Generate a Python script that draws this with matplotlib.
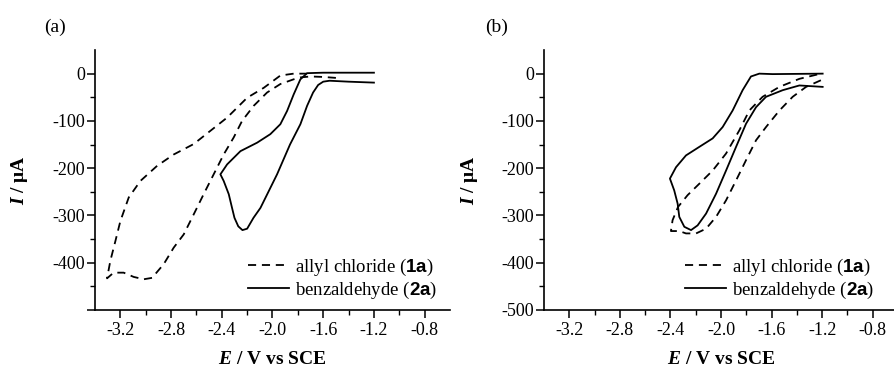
import matplotlib
matplotlib.use("Agg")
import matplotlib.pyplot as plt
from matplotlib.ticker import FixedLocator

# ---------------- data ----------------
# Panel (a): allyl chloride (1a), dashed
Ea_allyl = [-1.50, -1.60, -1.70, -1.78, -1.833, -1.938, -2.043, -2.148, -2.24, -2.306,
            -2.385, -2.464, -2.543, -2.622, -2.70, -2.779, -2.858, -2.95, -3.016, -3.095,
            -3.174, -3.253, -3.305, -3.279, -3.239, -3.20, -3.134, -3.042, -2.91, -2.779,
            -2.622, -2.49, -2.358, -2.20, -2.069, -1.938, -1.833, -1.73]
Ia_allyl = [-9, -7, -6, -8, -12, -22, -40, -68, -100, -135,
            -171, -213, -255, -298, -340, -368, -403, -432, -435, -430,
            -421, -421, -433, -396, -354, -312, -262, -227, -195, -171,
            -149, -121, -93, -51, -30, -4, 0, 0]
# Panel (a): benzaldehyde (2a), solid
Ea_benz = [-1.20, -1.40, -1.55, -1.60, -1.64, -1.68, -1.727, -1.78, -1.862, -1.964,
           -2.095, -2.15, -2.20, -2.237, -2.27, -2.30, -2.32, -2.345, -2.385, -2.411,
           -2.358, -2.253, -2.121, -2.017, -1.938, -1.885, -1.833, -1.78, -1.727, -1.60, -1.20]
Ia_benz = [-19, -17, -15, -17, -24, -40, -68, -107, -150, -213,
           -284, -305, -328, -331, -323, -305, -283, -255, -227, -213,
           -192, -164, -146, -128, -107, -79, -44, -12, 1, 2, 2]

# Panel (b): allyl chloride (1a), dashed
Eb_allyl = [-1.21, -1.327, -1.433, -1.538, -1.644, -1.723, -1.802, -1.881, -1.96, -2.039,
            -2.118, -2.197, -2.277, -2.33, -2.396, -2.383, -2.34, -2.264, -2.172, -2.066,
            -1.96, -1.855, -1.776, -1.671, -1.538, -1.38, -1.21]
Ib_allyl = [-14, -28, -49, -78, -113, -141, -183, -226, -268, -303,
            -328, -338, -338, -333, -333, -310, -282, -257, -233, -205,
            -169, -120, -78, -49, -28, -11, 0]
# Panel (b): benzaldehyde (2a), solid
Eb_benz = [-1.196, -1.38, -1.512, -1.644, -1.723, -1.802, -1.881, -1.96, -2.039, -2.118,
           -2.185, -2.237, -2.29, -2.33, -2.343, -2.37, -2.404, -2.356, -2.277, -2.172,
           -2.066, -1.987, -1.908, -1.829, -1.763, -1.697, -1.592, -1.196]
Ib_benz = [-28, -25, -35, -49, -71, -106, -155, -205, -254, -296,
           -321, -331, -324, -303, -275, -247, -222, -198, -173, -155,
           -137, -113, -78, -35, -6, 0, -1, 0]

series_labels = [r"allyl chloride ($\mathbf{1a}$)", r"benzaldehyde ($\mathbf{2a}$)"]
panel_tags = ["(a)", "(b)"]
x_major = [-3.2, -2.8, -2.4, -2.0, -1.6, -1.2, -0.8]
x_minor = [-3.0, -2.6, -2.2, -1.8, -1.4, -1.0]
y_major = [0, -100, -200, -300, -400, -500]
y_minor = [-50, -150, -250, -350, -450]

# ---------------- style ----------------
plt.rcParams["font.family"] = ["Liberation Serif", "DejaVu Serif"]
plt.rcParams["mathtext.fontset"] = "custom"
plt.rcParams["mathtext.rm"] = "Liberation Serif"
plt.rcParams["mathtext.it"] = "Liberation Serif:italic:bold"
plt.rcParams["mathtext.bf"] = "Liberation Sans:bold"

fig = plt.figure(figsize=(8.95, 3.67), dpi=100)
W, H = 895.0, 367.0

def make_axes(left_px, right_px):
    return fig.add_axes([left_px / W, (H - 310) / H, (right_px - left_px) / W, 260 / H])

axa = make_axes(95, 450)
axb = make_axes(544, 898)

dash = (0, (4.5, 3.2))
lw = 1.3

axa.plot(Ea_allyl, Ia_allyl, color="black", lw=lw, linestyle=dash, label=series_labels[0])
axa.plot(Ea_benz, Ia_benz, color="black", lw=lw, linestyle="-", label=series_labels[1])
axb.plot(Eb_allyl, Ib_allyl, color="black", lw=lw, linestyle=dash, label=series_labels[0])
axb.plot(Eb_benz, Ib_benz, color="black", lw=lw, linestyle="-", label=series_labels[1])

for i, ax in enumerate([axa, axb]):
    ax.set_xlim(-3.4, -0.6)
    ax.set_ylim(-500, 50)
    for s in ["top", "right"]:
        ax.spines[s].set_visible(False)
    for s in ["left", "bottom"]:
        ax.spines[s].set_linewidth(1.2)
    ax.xaxis.set_major_locator(FixedLocator(x_major))
    ax.xaxis.set_minor_locator(FixedLocator(x_minor))
    ax.yaxis.set_major_locator(FixedLocator(y_major))
    ax.yaxis.set_minor_locator(FixedLocator(y_minor))
    ax.set_xticklabels([f"{v:.1f}" for v in x_major])
    if i == 0:
        ax.set_yticklabels([f"{v}" if v != -500 else "" for v in y_major])
    else:
        ax.set_yticklabels([f"{v}" for v in y_major])
    ax.tick_params(which="major", direction="out", length=5.5, width=1.1, labelsize=13, pad=1.5)
    ax.tick_params(which="minor", direction="out", length=3.5, width=1.0)
    ax.tick_params(axis="x", which="major", pad=3)
    ax.set_xlabel(r"$E$ / V vs SCE", fontsize=14, fontweight="bold")
    ax.set_ylabel(r"$I$ / μA", fontsize=14, fontweight="bold")
    ax.xaxis.set_label_coords(0.5, -0.158)
    ax.yaxis.set_label_coords(-0.183 if i == 0 else -0.181, 0.5)
    leg_x = 0.431 if i == 0 else 0.398
    ax.legend(loc="lower left", bbox_to_anchor=(leg_x, 0.035), frameon=False,
              fontsize=13.5, handlelength=2.2, handletextpad=0.3, labelspacing=0.1,
              borderpad=0, borderaxespad=0)

fig.text(55 / W, 1 - 27 / H, panel_tags[0], fontsize=14, ha="center", va="center")
fig.text(497 / W, 1 - 27 / H, panel_tags[1], fontsize=14, ha="center", va="center")

fig.savefig("out.png", dpi=100)
